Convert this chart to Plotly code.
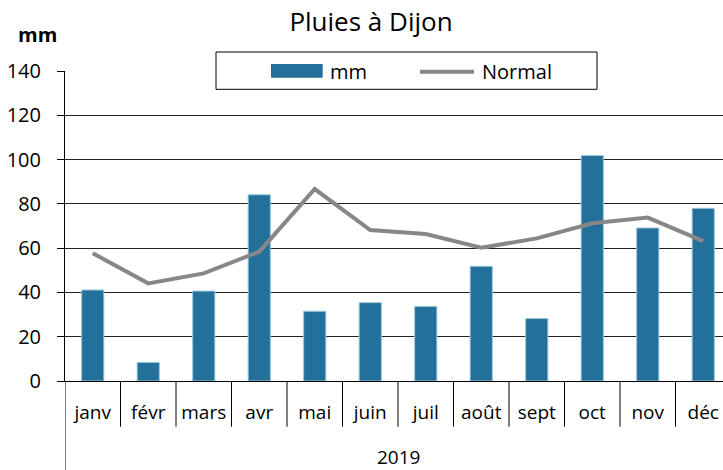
import plotly.graph_objects as go

months = ["janv", "févr", "mars", "avr", "mai", "juin", "juil", "août", "sept", "oct", "nov", "déc"]
rain_mm = [41.1, 8.4, 40.6, 84.1, 31.5, 35.4, 33.7, 51.8, 28.2, 101.8, 69.1, 78.0]
normal_mm = [57.7, 44.1, 48.6, 58.4, 86.7, 68.2, 66.4, 60.2, 64.4, 71.2, 73.8, 63.2]
year_label = "2019"
y_ticks = [0, 20, 40, 60, 80, 100, 120, 140]

W, H = 723, 470
L, R, T, B = 65, 0, 71, 89
PW, PH = W - L - R, H - T - B
CAT_W = 55.5

FONT = "Open Sans, Noto Sans, sans-serif"
BAR_C = "#23709a"
LINE_C = "#878787"

def px_x(px):
    return (px - L) / PW

def px_y(py):
    return (H - B - py) / PH

fig = go.Figure()
fig.add_trace(go.Bar(x=months, y=rain_mm, name="mm", width=0.4,
                     marker=dict(color=BAR_C, line=dict(color="#9cc7dc", width=1)),
                     showlegend=False))
fig.add_trace(go.Scatter(x=months, y=normal_mm, name="Normal", mode="lines",
                         line=dict(color=LINE_C, width=4), showlegend=False))

shapes = []
# category dividers
for i in range(1, len(months)):
    shapes.append(dict(type="line", xref="x", yref="paper", x0=i - 0.5, x1=i - 0.5,
                       y0=0, y1=px_y(426.7), line=dict(color="black", width=1)))
# left axis extension
shapes.append(dict(type="line", xref="x", yref="paper", x0=-0.5, x1=-0.5,
                   y0=0, y1=px_y(H), line=dict(color="black", width=1)))
# legend box
shapes.append(dict(type="rect", xref="paper", yref="paper", layer="above",
                   x0=px_x(216), x1=px_x(597), y0=px_y(89.3), y1=px_y(52),
                   fillcolor="white", line=dict(color="black", width=1)))
shapes.append(dict(type="rect", xref="paper", yref="paper", layer="above",
                   x0=px_x(271), x1=px_x(322.7), y0=px_y(77.7), y1=px_y(64),
                   fillcolor=BAR_C, line=dict(width=0)))
shapes.append(dict(type="line", xref="paper", yref="paper", layer="above",
                   x0=px_x(420), x1=px_x(474), y0=px_y(71.7), y1=px_y(71.7),
                   line=dict(color=LINE_C, width=4)))

annotations = [
    dict(text="mm", xref="paper", yref="paper", x=px_x(328), y=px_y(71.7),
         xanchor="left", yanchor="middle", showarrow=False,
         font=dict(family=FONT, size=20, color="black")),
    dict(text="Normal", xref="paper", yref="paper", x=px_x(479.5), y=px_y(71.7),
         xanchor="left", yanchor="middle", showarrow=False,
         font=dict(family=FONT, size=20, color="black")),
    dict(text="<b>mm</b>", xref="paper", yref="paper", x=px_x(37), y=px_y(35),
         xanchor="center", yanchor="middle", showarrow=False,
         font=dict(family=FONT, size=20, color="black")),
    dict(text=year_label, xref="x", yref="paper", x=(len(months) - 1) / 2, y=px_y(457),
         xanchor="center", yanchor="middle", showarrow=False,
         font=dict(family=FONT, size=19, color="black")),
]

fig.update_layout(
    width=W, height=H,
    margin=dict(l=L, r=R, t=T, b=B, pad=0),
    paper_bgcolor="white", plot_bgcolor="white",
    font=dict(family=FONT, color="black"),
    title=dict(text="Pluies à Dijon", xref="container", yref="container",
               x=371 / W, y=1 - 22 / H, xanchor="center", yanchor="middle",
               font=dict(family=FONT, size=26, color="black")),
    shapes=shapes, annotations=annotations,
    showlegend=False,
    bargap=0.6,
)
fig.update_xaxes(type="category", range=[-0.5, -0.5 + PW / CAT_W],
                 showline=True, linecolor="black", linewidth=1,
                 ticks="", showgrid=False, tickfont=dict(size=19, family=FONT),
                 ticklabelstandoff=14, fixedrange=True)
fig.update_yaxes(range=[0, 140], tickvals=y_ticks, ticks="outside", ticklen=7,
                 tickcolor="black", showline=True, linecolor="black", linewidth=1,
                 showgrid=True, gridcolor="#222222", gridwidth=1, zeroline=False,
                 tickfont=dict(size=20, family=FONT), ticklabelstandoff=12,
                 fixedrange=True)

fig.write_html("out.html", config={"displayModeBar": False},
               post_script="document.body.style.margin='0';document.body.style.overflow='hidden';")
